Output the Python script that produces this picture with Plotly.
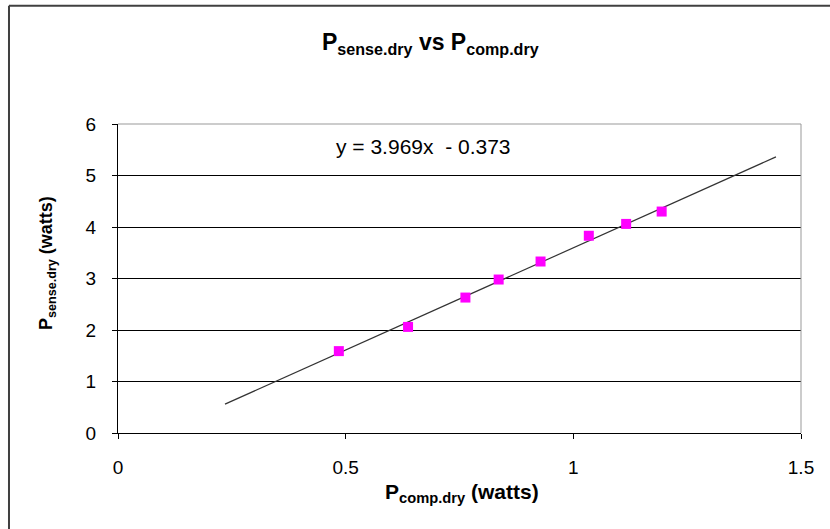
import plotly.graph_objects as go

# Data
p_comp_dry = [0.485, 0.637, 0.763, 0.836, 0.928, 1.034, 1.116, 1.194]
p_sense_dry = [1.59, 2.06, 2.63, 2.98, 3.33, 3.83, 4.06, 4.30]

slope = 3.969
intercept = -0.373
trend_x = [0.235, 1.445]
trend_y = [slope * x + intercept for x in trend_x]

x_ticks = [0, 0.5, 1, 1.5]
y_ticks = [0, 1, 2, 3, 4, 5, 6]

FONT = "Liberation Sans, Arial, sans-serif"

fig = go.Figure()
fig.add_trace(go.Scatter(
    x=trend_x, y=trend_y, mode="lines",
    line=dict(color="#333333", width=1.2),
    showlegend=False, hoverinfo="skip"))
fig.add_trace(go.Scatter(
    x=p_comp_dry, y=p_sense_dry, mode="markers",
    marker=dict(symbol="square", size=10, color="#FF00FF"),
    showlegend=False))

fig.update_layout(
    width=830, height=529,
    margin=dict(l=118, r=29, t=124, b=96),
    paper_bgcolor="white", plot_bgcolor="white",
    font=dict(family=FONT, color="black", size=16),
    xaxis=dict(range=[0, 1.5], tickvals=x_ticks, showgrid=False, zeroline=False,
               showline=True, linecolor="black", linewidth=1,
               ticks="outside", ticklen=5, tickcolor="black",
               ticklabelstandoff=12,
               tickfont=dict(size=19, color="black")),
    yaxis=dict(range=[0, 6], tickvals=y_ticks, showgrid=True, gridcolor="black",
               gridwidth=1, zeroline=False,
               showline=True, linecolor="black", linewidth=1,
               ticks="outside", ticklen=5, tickcolor="black",
               ticklabelstandoff=12,
               tickfont=dict(size=19, color="black")),
    shapes=[
        # plot area border (top and right) in gray
        dict(type="line", xref="paper", yref="paper", x0=0, x1=1, y0=1, y1=1,
             line=dict(color="#999999", width=1)),
        dict(type="line", xref="paper", yref="paper", x0=1, x1=1, y0=0, y1=1,
             line=dict(color="#999999", width=1)),
        # outer chart frame (left and top)
        dict(type="line", xref="paper", yref="paper", x0=-0.1596, x1=-0.1596,
             y0=-0.4, y1=1.383, line=dict(color="#404040", width=2)),
        dict(type="line", xref="paper", yref="paper", x0=-0.1596, x1=1.1,
             y0=1.383, y1=1.383, line=dict(color="#404040", width=2)),
    ],
    annotations=[
        dict(text="<b>P<sub>sense.dry</sub> vs P<sub>comp.dry</sub></b>",
             xref="paper", yref="paper", x=0.458, y=1.26, showarrow=False,
             font=dict(size=23, color="black", family=FONT),
             xanchor="center", yanchor="middle"),
        dict(text="<b>P<sub>sense.dry</sub> (watts)</b>",
             xref="paper", yref="paper", x=-0.104, y=0.55, showarrow=False,
             textangle=-90, font=dict(size=18, color="black", family=FONT),
             xanchor="center", yanchor="middle"),
        dict(text="<b>P<sub>comp.dry</sub> (watts)</b>",
             xref="paper", yref="paper", x=0.504, y=-0.194, showarrow=False,
             font=dict(size=21, color="black", family=FONT),
             xanchor="center", yanchor="middle"),
        dict(text="y = 3.969x  - 0.373",
             xref="paper", yref="paper", x=0.447, y=0.926, showarrow=False,
             font=dict(size=21, color="black", family=FONT),
             xanchor="center", yanchor="middle"),
    ],
)

fig.write_html("out.html",
               config={"displayModeBar": False},
               post_script="document.body.style.margin='0';")
